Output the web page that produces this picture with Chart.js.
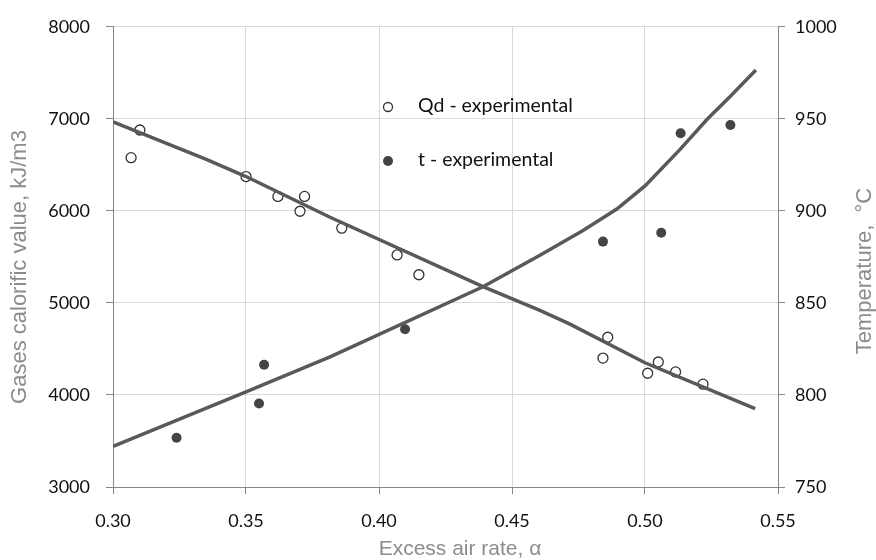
<!DOCTYPE html>
<html>
<head>
<meta charset="utf-8">
<script src="https://cdn.jsdelivr.net/npm/chart.js@4"></script>
<style>
  html, body { margin: 0; padding: 0; background: #fff; }
  #wrap { width: 876px; height: 560px; }
</style>
</head>
<body>
<div id="wrap"><canvas id="chart" width="876" height="560"></canvas></div>
<script>
// experimental points
const qdExpX = [0.3068, 0.3101, 0.350, 0.362, 0.3703, 0.372, 0.386, 0.4068, 0.415, 0.4842, 0.486, 0.501, 0.505, 0.5115, 0.5218];
const qdExpY = [6578, 6879, 6373, 6157, 5996, 6157, 5812, 5521, 5306, 4401, 4627, 4236, 4358, 4250, 4117];
const tExpX = [0.3239, 0.3549, 0.3568, 0.4098, 0.4842, 0.5061, 0.5134, 0.5321];
const tExpY = [776.8, 795.4, 816.4, 835.7, 883.3, 888.1, 942.2, 946.7];

// calculated curves
const qdFitX = [0.300, 0.3353, 0.350, 0.3816, 0.4391, 0.4605, 0.4718, 0.500, 0.5414];
const qdFitY = [6966, 6556, 6373, 5931, 5177, 4918, 4770, 4350, 3851];
const tFitX = [0.300, 0.350, 0.3816, 0.4391, 0.4605, 0.4767, 0.4894, 0.500, 0.5132, 0.5232, 0.5320, 0.5417];
const tFitY = [772.1, 801.7, 820.7, 858.8, 875.9, 889.4, 901.0, 913.6, 933.4, 949.5, 962.1, 976.5];

// axis ranges / tick labels
const xTicks = [0.30, 0.35, 0.40, 0.45, 0.50, 0.55];
const qdTicks = [3000, 4000, 5000, 6000, 7000, 8000];
const tTicks = [750, 800, 850, 900, 950, 1000];

const legendNames = ['Qd - experimental', 't - experimental'];
const xTitle = 'Excess air rate, \u03B1';
const yTitle = 'Gases calorific value, kJ/m3';
const y1Title = 'Temperature,  \u00B0C';

const pts = (xs, ys) => xs.map((x, i) => ({ x: x, y: ys[i] }));

const tickFont = { family: 'Lato', size: 18 };
const axisGray = '#868686';
const gridGray = '#d9d9d9';
const titleGray = '#8c8c8c';

// legend inside the plot and the three axis titles (Excel-like placement)
const extras = {
  id: 'extras',
  afterDraw(chart) {
    const c = chart.ctx;
    c.save();
    c.textBaseline = 'middle';
    // open marker
    c.beginPath();
    c.arc(388, 107, 4.5, 0, Math.PI * 2);
    c.fillStyle = '#fff';
    c.fill();
    c.lineWidth = 1.3;
    c.strokeStyle = '#333';
    c.stroke();
    // filled marker
    c.beginPath();
    c.arc(388, 161, 5, 0, Math.PI * 2);
    c.fillStyle = '#444';
    c.fill();
    c.font = '19.5px Lato';
    c.fillStyle = '#111';
    c.fillText(legendNames[0], 418, 106);
    c.fillText(legendNames[1], 418, 160);

    c.fillStyle = titleGray;
    c.textAlign = 'center';
    c.font = '21px "Liberation Sans"';
    c.fillText(xTitle, 460, 549);

    c.font = '22px "Liberation Sans"';
    c.save();
    c.translate(20, 267);
    c.rotate(-Math.PI / 2);
    c.fillText(yTitle, 0, 0);
    c.restore();

    c.translate(865, 271);
    c.rotate(-Math.PI / 2);
    c.fillText(y1Title, 0, 0);
    c.restore();
  }
};

new Chart(document.getElementById('chart'), {
  type: 'scatter',
  data: {
    datasets: [
      {
        label: 'Qd - calc',
        data: pts(qdFitX, qdFitY),
        yAxisID: 'y',
        showLine: true,
        borderColor: '#595959',
        borderWidth: 3.5,
        pointRadius: 0,
        tension: 0
      },
      {
        label: 't - calc',
        data: pts(tFitX, tFitY),
        yAxisID: 'y1',
        showLine: true,
        borderColor: '#595959',
        borderWidth: 3.5,
        pointRadius: 0,
        tension: 0
      },
      {
        label: legendNames[0],
        data: pts(qdExpX, qdExpY),
        yAxisID: 'y',
        pointRadius: 5,
        pointBackgroundColor: '#fff',
        pointBorderColor: '#333',
        pointBorderWidth: 1.3
      },
      {
        label: legendNames[1],
        data: pts(tExpX, tExpY),
        yAxisID: 'y1',
        pointRadius: 5,
        pointBackgroundColor: '#444',
        pointBorderColor: '#444',
        pointBorderWidth: 0
      }
    ]
  },
  options: {
    responsive: false,
    animation: false,
    layout: { padding: { top: 23, left: 0, right: 0, bottom: 0 } },
    plugins: {
      legend: { display: false },
      tooltip: { enabled: false }
    },
    scales: {
      x: {
        type: 'linear',
        min: xTicks[0],
        max: xTicks[xTicks.length - 1],
        afterBuildTicks: s => { s.ticks = xTicks.map(v => ({ value: v })); },
        afterFit: s => { s.height = 73; },
        ticks: {
          font: tickFont,
          color: '#111',
          padding: 16,
          callback: v => v.toFixed(2)
        },
        grid: { color: gridGray, tickColor: axisGray, tickLength: 7 },
        border: { color: axisGray }
      },
      y: {
        position: 'left',
        min: qdTicks[0],
        max: qdTicks[qdTicks.length - 1],
        afterBuildTicks: s => { s.ticks = qdTicks.map(v => ({ value: v })); },
        afterFit: s => { s.width = 113; },
        ticks: { font: tickFont, color: '#111', padding: 16, callback: v => String(v) },
        grid: { color: gridGray, tickColor: axisGray, tickLength: 7 },
        border: { color: axisGray }
      },
      y1: {
        position: 'right',
        min: tTicks[0],
        max: tTicks[tTicks.length - 1],
        afterBuildTicks: s => { s.ticks = tTicks.map(v => ({ value: v })); },
        afterFit: s => { s.width = 98; },
        ticks: { font: tickFont, color: '#111', padding: 10, callback: v => String(v) },
        grid: { drawOnChartArea: false, tickColor: axisGray, tickLength: 7 },
        border: { color: axisGray }
      }
    }
  },
  plugins: [extras]
});
</script>
</body>
</html>
